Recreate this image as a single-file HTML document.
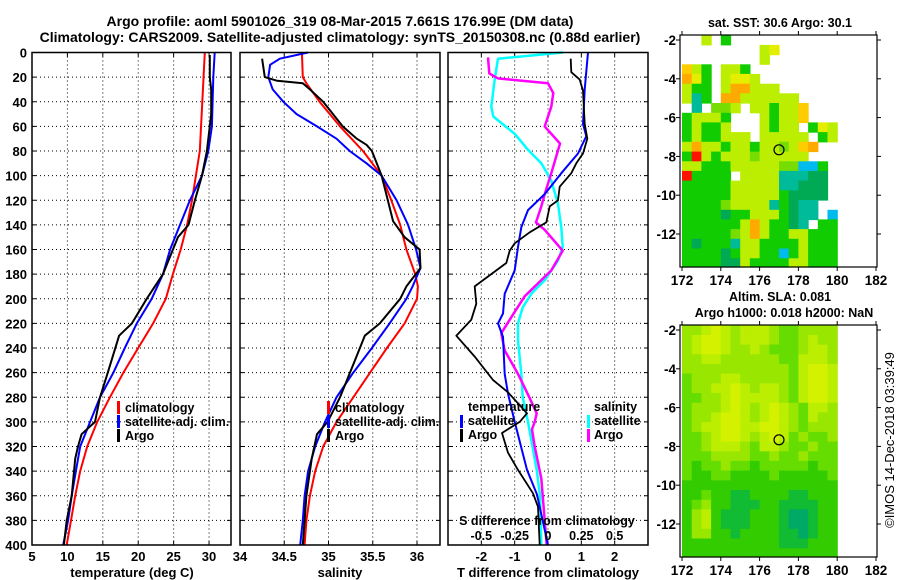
<!DOCTYPE html>
<html><head><meta charset="utf-8">
<style>
html,body{margin:0;padding:0;background:#fff;}
svg{display:block;font-family:"Liberation Sans",sans-serif;font-weight:bold;}
</style></head>
<body>
<svg id="fig" width="900" height="580" viewBox="0 0 900 580" xmlns="http://www.w3.org/2000/svg">
<rect x="0" y="0" width="900" height="580" fill="#fff"/>
<text x="340" y="26" font-size="14" text-anchor="middle">Argo profile: aoml 5901026_319 08-Mar-2015 7.661S 176.99E (DM data)</text>
<text x="340" y="42" font-size="14" text-anchor="middle">Climatology: CARS2009. Satellite-adjusted climatology: synTS_20150308.nc (0.88d earlier)</text>
<text x="780" y="27" font-size="12.5" text-anchor="middle">sat. SST: 30.6 Argo: 30.1</text>
<text x="780" y="301" font-size="12.5" text-anchor="middle">Altim. SLA: 0.081</text>
<text x="784" y="317" font-size="12.5" text-anchor="middle">Argo h1000: 0.018 h2000: NaN</text>
<text transform="translate(894,440) rotate(-90)" font-size="13" font-weight="normal" text-anchor="middle">©IMOS 14-Dec-2018 03:39:49</text>
</svg>
<script>
// ---------- data ----------
const depthTicks = [0,20,40,60,80,100,120,140,160,180,200,220,240,260,280,300,320,340,360,380,400];
const tempTicks = [5,10,15,20,25,30];
const salTicks = [34,34.5,35,35.5,36];
const tdiffTicks = [-2,-1,0,1,2];
const sdiffTickLabels = ["-0.5","-0.25","0","0.25","0.5"];
const sdiffTicks = [-0.5,-0.25,0,0.25,0.5];

const climTdepth = [0,80,120,140,160,180,200,220,240,260,280,300,320,340,360,380,400];
const climT      = [29.4,28.7,27.6,26.9,26.0,24.9,23.9,22.1,20.0,17.9,16.0,14.2,12.8,11.8,11.1,10.5,9.9];
const satTdepth  = [0,20,60,80,100,120,140,160,180,200,220,240,260,280,300,320,340,360,380,400];
const satT       = [30.8,30.6,30.4,29.9,29.0,27.3,25.9,24.5,23.5,21.9,19.8,18.1,16.5,14.6,13.2,11.8,11.2,10.6,10.1,9.4];
const argoTdepth = [2,20,25,30,50,80,100,120,140,150,180,200,220,230,260,280,300,310,320,330,360,380,400];
const argoT      = [30.1,30.1,30.2,30.3,30.3,29.7,29.0,28.0,27.1,25.6,23.5,21.2,19.1,17.3,15.7,14.6,13.9,12.0,11.5,11.1,10.6,9.9,9.5];

const climSdepth = [0,20,25,40,60,80,100,120,140,160,180,190,200,220,240,260,280,300,320,340,360,380,400];
const climS      = [34.70,34.71,34.75,34.90,35.13,35.39,35.60,35.71,35.81,35.88,35.98,36.01,36.00,35.86,35.66,35.47,35.28,35.09,34.94,34.85,34.79,34.75,34.73];
const satSdepth  = [0,5,10,20,30,40,50,60,70,80,90,100,120,140,160,175,190,200,220,240,260,280,300,320,340,360,380,400];
const satS       = [34.77,34.45,34.34,34.32,34.37,34.49,34.64,34.87,35.09,35.24,35.43,35.60,35.77,35.90,35.99,36.04,35.95,35.88,35.69,35.49,35.28,35.09,34.96,34.85,34.77,34.73,34.71,34.68];
const argoSdepth = [5,20,23,25,30,40,60,70,75,80,100,120,137,150,160,175,190,200,220,230,250,280,300,310,330,360,400];
const argoS      = [34.25,34.28,34.42,34.71,34.79,34.94,35.16,35.32,35.43,35.49,35.60,35.67,35.73,35.86,36.03,36.04,35.88,35.81,35.58,35.41,35.30,35.13,34.99,34.87,34.81,34.75,34.71];

const satDTdepth = [0,30,58,68,82,98,115,128,142,158,177,196,212,220,231,261,277,300,339,359,400];
const satDT      = [1.2,1.1,1.05,1.15,0.9,0.4,-0.1,-0.6,-0.8,-0.9,-1.0,-1.3,-1.35,-1.5,-1.35,-1.3,-1.2,-1.0,-0.63,-0.33,0.0];
const argoDTdepth = [5,16,22,31,58,70,82,90,98,109,120,125,138,146,155,161,171,190,204,217,230,247,266,276,293,300,309,325,339,358,369,400];
const argoDT      = [0.68,0.7,0.95,1.05,1.1,1.18,1.05,0.85,0.7,0.35,0.3,0.05,-0.05,-0.55,-1.0,-1.15,-1.25,-2.2,-2.15,-2.3,-2.75,-2.2,-1.65,-1.2,-0.63,-0.85,-1.38,-1.2,-0.9,-0.45,-0.3,-0.25];
const satDSdepth = [0,5,22,44,52,66,79,90,104,123,142,158,169,185,196,207,220,234,261,280,300,339,360,400];
const satDS      = [0.11,-0.375,-0.4,-0.425,-0.41,-0.25,-0.15,-0.05,0.025,0.075,0.1,0.11,0.075,-0.025,-0.125,-0.19,-0.225,-0.225,-0.2,-0.19,-0.15,-0.085,-0.06,-0.05];
const argoDSdepth = [4,17,21,25,33,44,60,74,98,115,125,138,144,161,177,198,215,228,242,261,280,293,300,306,320,346,400];
const argoDS      = [-0.45,-0.44,-0.375,0,0.04,0.025,-0.025,0.09,0.025,-0.025,-0.05,-0.09,-0.025,0.11,0.025,-0.175,-0.275,-0.35,-0.325,-0.225,-0.14,-0.085,-0.1,-0.12,-0.1,-0.05,-0.01];

// maps: 16 cols (172..180, 0.5deg), 24 rows (-1.75..-13.75)
const sstRows = [
"..y.g...........",
"........yY......",
"........y.......",
"oyg.yyg.........",
"OYg.yYYy........",
"ygg.yOOyyy......",
"ytg.OOyyyyyy....",
".t.lly.yygyyo...",
"gyyyg...ygyyo...",
"gyggy...ygyy.gYy",
"gyggyyy.yyyyy.gy",
"yOyygyygyylyoO..",
"grygyyylyyyyy...",
"yygggyyyyyllccg.",
"rgggg.yyyytttGG.",
"gggggyyyyyttGGG.",
"gggggyyyyygGGGG.",
"gggglyyyytgGtt..",
"ggggGggyyygGtt.c",
"ggggggyOyggGt.gg",
"ggggglyOyggyyggg",
"gGgggtyyggggyggg",
"ggggGgyyggcgyggg",
"ggggGGyggggyyggg"];
const slaRows = [
"llyYylyyylggllll",
"lyYYylyyylgglyll",
"lyYYyllylggglyyl",
"llyyllllllggyyyl",
"lllllllllllgyYYy",
"glllyylllllgyYYy",
"gllyyYylyylgyYYy",
"ggllyYyyyylgyYYy",
"glllyYylyYylgyyl",
"gllyYYylyYylgyll",
"glyyYYyyYYylglll",
"gglyYYylyYyglggl",
"gglyyylgyylgglgg",
"gggllllgglgglggg",
"gGgglggGgggggGgg",
"gGGggGGGGgGGGGGg",
"GGGGGGGGGGGGGGGG",
"GGgGGTTGGGGTTGGG",
"GglGGTTTGGTTTTGG",
"GlyGTTTGGGTUUTGG",
"GlyGTTTGGGTUUTGG",
"GllGGTGGGGTTUTGG",
"GGGGGGGGGGTTTGGG",
"GGGGGGGGGGGGGGGG"];
const mapLonTicks = [172,174,176,178,180,182];
const mapLatTicks = [-2,-4,-6,-8,-10,-12];
const argoLon = [177.0];
const argoLat = [-7.66];

// ---------- drawing ----------
const NS="http://www.w3.org/2000/svg";
const svg=document.getElementById('fig');
function mk(tag,attrs,parent){const e=document.createElementNS(NS,tag);for(const k in attrs)e.setAttribute(k,attrs[k]);(parent||svg).appendChild(e);return e;}
const Y0=52.5, Y1=545;
const yD = d => Y0+(d/400)*(Y1-Y0);

function panel(name,x0,x1,dmin,dmax,vticks,showY){
  const xs = v => x0+(v-dmin)/(dmax-dmin)*(x1-x0);
  const g=mk('g',{});
  
  
  vticks.forEach(v=>{const x=xs(v); if(x>x0+1&&x<x1-1){const l=mk('line',{x1:x,y1:Y0,x2:x,y2:Y1,stroke:'#000','stroke-width':1,'stroke-dasharray':'1 3'},g);}
    mk('line',{x1:x,y1:Y1,x2:x,y2:Y1-4,stroke:'#000'},g);mk('line',{x1:x,y1:Y0,x2:x,y2:Y0+4,stroke:'#000'},g);});
  depthTicks.forEach(d=>{const y=yD(d); if(d>0&&d<400){const l=mk('line',{x1:x0,y1:y,x2:x1,y2:y,stroke:'#000','stroke-width':1,'stroke-dasharray':'1 3'},g);}
    mk('line',{x1:x0,y1:y,x2:x0+4,y2:y,stroke:'#000'},g);mk('line',{x1:x1,y1:y,x2:x1-4,y2:y,stroke:'#000'},g);
    if(showY){const t=mk('text',{x:x0-5,y:y+5,'font-size':13,'text-anchor':'end'},g);t.textContent=d;}});
  return {g,xs};
}
function line(p,vals,depths,color,w,name){
  const pts=vals.map((v,i)=>p.xs(v).toFixed(1)+','+yD(depths[i]).toFixed(1)).join(' ');
  const l=mk('polyline',{points:pts,fill:'none',stroke:color,'stroke-width':w,'stroke-linejoin':'round'},p.g);
  
  
}
function frame(p,x0,x1){const r=mk('rect',{x:x0,y:Y0,width:x1-x0,height:Y1-Y0,fill:'none',stroke:'#000','stroke-width':1.5},p.g);}
function txt(x,y,s,size,anchor,name,col){const t=mk('text',{x:x,y:y,'font-size':size,'text-anchor':anchor||'start',fill:col||'#000'});t.textContent=s;return t;}
function legBar(x,y,color,name){const r=mk('rect',{x:x,y:y,width:3,height:13,fill:color});}

// Panel 1 temperature
const p1=panel('temperature-panel',32,231,5,33.1,tempTicks,true);
line(p1,climT,climTdepth,'#f00',2,'temperature-climatology-line');
line(p1,satT,satTdepth,'#00f',2,'temperature-satellite-line');
line(p1,argoT,argoTdepth,'#000',2,'temperature-argo-line');
frame(p1,32,231);
tempTicks.forEach(v=>txt(p1.xs(v),561,String(v),13,'middle','temperature-tick-label'));
txt(132,577,'temperature (deg C)',13,'middle','x-axis-title-temperature');
legBar(117,401,'#f00','legend-swatch-climatology');txt(125,412,'climatology',12.5,'start','legend-climatology');
legBar(117,415,'#00f','legend-swatch-satellite-adj');txt(125,426,'satellite-adj. clim.',12.5,'start','legend-satellite-adj');
legBar(117,429,'#000','legend-swatch-argo');txt(125,440,'Argo',12.5,'start','legend-argo');

// Panel 2 salinity
const p2=panel('salinity-panel',240,440,34,36.26,salTicks,false);
line(p2,climS,climSdepth,'#f00',2,'salinity-climatology-line');
line(p2,satS,satSdepth,'#00f',2,'salinity-satellite-line');
line(p2,argoS,argoSdepth,'#000',2,'salinity-argo-line');
frame(p2,240,440);
salTicks.forEach(v=>txt(p2.xs(v),561,String(v),13,'middle','salinity-tick-label'));
txt(340,577,'salinity',13,'middle','x-axis-title-salinity');
legBar(327,401,'#f00','legend2-swatch-climatology');txt(335,412,'climatology',12.5,'start','legend2-climatology');
legBar(327,415,'#00f','legend2-swatch-satellite-adj');txt(335,426,'satellite-adj. clim.',12.5,'start','legend2-satellite-adj');
legBar(327,429,'#000','legend2-swatch-argo');txt(335,440,'Argo',12.5,'start','legend2-argo');

// Panel 3 differences
const p3=panel('difference-panel',448,648,-3,3,tdiffTicks,false);
const p3s={g:p3.g,xs:v=>p3.xs(v*4)};
line(p3s,satDS,satDSdepth,'#0ff',2.5,'salinity-diff-satellite-line');
line(p3s,argoDS,argoDSdepth,'#f0f',2.5,'salinity-diff-argo-line');
line(p3,satDT,satDTdepth,'#00f',2,'temperature-diff-satellite-line');
line(p3,argoDT,argoDTdepth,'#000',1.8,'temperature-diff-argo-line');
frame(p3,448,648);
tdiffTicks.forEach(v=>txt(p3.xs(v),561,String(v),13,'middle','tdiff-tick-label'));
sdiffTicks.forEach((v,i)=>txt(p3s.xs(v),540,sdiffTickLabels[i],12.5,'middle','sdiff-tick-label'));
txt(547,525,'S difference from climatology',12.5,'middle','sdiff-axis-title');
txt(548,577,'T difference from climatology',13,'middle','x-axis-title-tdiff');
txt(468,411,'temperature',12.5,'start','legend3-temperature-heading');
legBar(460,415,'#00f','legend3-swatch-t-satellite');txt(468,425,'satellite',12.5,'start','legend3-t-satellite');
legBar(460,429,'#000','legend3-swatch-t-argo');txt(468,439,'Argo',12.5,'start','legend3-t-argo');
txt(594,411,'salinity',12.5,'start','legend3-salinity-heading');
legBar(587,415,'#0ff','legend3-swatch-s-satellite');txt(594,425,'satellite',12.5,'start','legend3-s-satellite');
legBar(587,429,'#f0f','legend3-swatch-s-argo');txt(594,439,'Argo',12.5,'start','legend3-s-argo');

// Maps
const sstCol={g:'#11cc00',G:'#00aa55',l:'#77dd00',y:'#bbee00',Y:'#e6ee00',o:'#ffcc00',O:'#ffaa00',r:'#ff1100',t:'#00bb99',c:'#00bbee'};
const slaCol={g:'#66dd00',G:'#33cc00',l:'#99e600',y:'#bbee00',Y:'#d4f200',T:'#11bb33',U:'#00aa66'};
function drawMap(name,top,bot,rows,cols,latTop){
  const L=680,R=877,k=19.4;
  const xl=lon=>682+(lon-172)*k;
  const yl=lat=>top+5+(-2-lat)*k;
  const g=mk('g',{});
  
  
  rows.forEach((row,ri)=>{for(let ci=0;ci<row.length;ci++){const ch=row[ci];if(ch==='.')continue;
    const lon=172+ci*0.5, lat=latTop-ri*0.5;
    const y0=Math.max(top,yl(lat)), y1=Math.min(bot,yl(lat-0.5));
    const c=mk('rect',{x:xl(lon).toFixed(1),y:y0.toFixed(1),width:(k*0.5+0.6).toFixed(1),height:(y1-y0+0.6).toFixed(1),fill:cols[ch]},g);
    
    }});
  const fr=mk('rect',{x:L,y:top,width:R-L,height:bot-top,fill:'none',stroke:'#000','stroke-width':1.2},g);
  
  mapLonTicks.forEach(v=>{const x=xl(v);mk('line',{x1:x,y1:bot,x2:x,y2:bot+4,stroke:'#000'},g);mk('line',{x1:x,y1:top,x2:x,y2:top-4,stroke:'#000'},g);
    const t=mk('text',{x:x,y:bot+18,'font-size':13.5,'text-anchor':'middle'},g);t.textContent=v;});
  mapLatTicks.forEach(v=>{const y=yl(v);mk('line',{x1:L,y1:y,x2:L-4,y2:y,stroke:'#000'},g);mk('line',{x1:R,y1:y,x2:R+4,y2:y,stroke:'#000'},g);
    const t=mk('text',{x:L-4,y:y+5,'font-size':13.5,'text-anchor':'end'},g);t.textContent=v;});
  argoLon.forEach((lo,i)=>{const c=mk('circle',{cx:xl(lo),cy:yl(argoLat[i]),r:5,fill:'none',stroke:'#000','stroke-width':1.2},g);});
}
drawMap('sst-map',35,267,sstRows,sstCol,-1.75);
drawMap('sla-map',325,557,slaRows,slaCol,-1.75);
</script>
</body></html>
